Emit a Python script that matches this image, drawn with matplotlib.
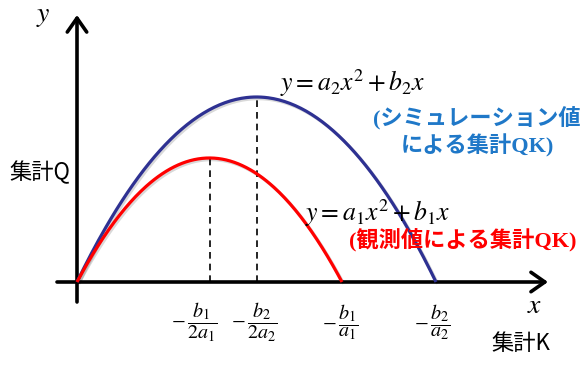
import matplotlib.pyplot as plt
import matplotlib.patheffects as pe
import numpy as np

plt.rcParams['mathtext.fontset'] = 'stix'

# roots (-b/a) and peak heights of the two parabolas (arbitrary units)
roots = [2.65, 3.59]        # red (observed), blue (simulation)
peaks = [1.24, 1.85]
colors = ['#FF0000', '#2E3192']
eq_labels = [r'$y = a_1x^2 + b_1x$', r'$y = a_2x^2 + b_2x$']
note_labels = ['(観測値による集計QK)', '(シミュレーション値\nによる集計QK)']
note_colors = ['#FF0000', '#1F78C8']
tick_labels = [r'$-\,\dfrac{b_1}{2a_1}$', r'$-\,\dfrac{b_2}{2a_2}$',
               r'$-\,\dfrac{b_1}{a_1}$', r'$-\,\dfrac{b_2}{a_2}$']

# coefficients from roots and peaks
b = [4 * p / r for p, r in zip(peaks, roots)]
a = [-bb / r for bb, r in zip(b, roots)]

fig = plt.figure(figsize=(5.84, 3.67), dpi=100)
ax = fig.add_axes([0, 0, 1, 1])
ax.set_xlim(-0.77, 5.07)
ax.set_ylim(-0.85, 2.82)
ax.axis('off')

shadow = [pe.SimpleLineShadow(offset=(1.2, -1.2), alpha=0.15), pe.Normal()]

# axes with arrows
arrow = dict(arrowstyle='->,head_length=0.5,head_width=0.35', lw=2.6,
             color='black', mutation_scale=20, shrinkA=0, shrinkB=0)
ax.annotate('', xy=(4.71, 0), xytext=(-0.2, 0), arrowprops=arrow)
ax.annotate('', xy=(0, 2.67), xytext=(0, -0.2), arrowprops=arrow)

# dashed lines at the vertices
for i in range(2):
    xv = roots[i] / 2
    ax.plot([xv, xv], [0, peaks[i]], color='black', lw=1.2, ls=(0, (4, 3)))

# parabolas
for i in [1, 0]:
    xs = np.linspace(0, roots[i], 200)
    ax.plot(xs, a[i] * xs**2 + b[i] * xs, color=colors[i], lw=2.3,
            solid_capstyle='butt', path_effects=shadow, zorder=3)

# tick fraction labels
tick_x = [roots[0] / 2, roots[1] / 2, roots[0], roots[1]]
nudge = [-0.15, -0.02, -0.02, -0.04]
for xv, dx, lab in zip(tick_x, nudge, tick_labels):
    ax.text(xv + dx, -0.4, lab, fontsize=14.5, ha='center', va='center')

# axis labels
ax.text(-0.34, 2.67, r'$y$', fontsize=20, ha='center', va='center')
ax.text(4.58, -0.23, r'$x$', fontsize=20, ha='center', va='center')
ax.text(-0.37, 1.1, '集計Q', fontsize=16, ha='center', va='center',
        family=['Noto Sans CJK JP'])
ax.text(4.44, -0.61, '集計K', fontsize=16, ha='center', va='center',
        family=['Noto Sans CJK JP'])

# equations
ax.text(2.03, 1.99, eq_labels[1], fontsize=18.5, ha='left', va='center')
ax.text(2.28, 0.69, eq_labels[0], fontsize=18.5, ha='left', va='center')

# notes
ax.text(4.0, 1.5, note_labels[1], fontsize=16, ha='center', va='center',
        color=note_colors[1], fontweight='bold', linespacing=1.25,
        family=['Liberation Serif', 'Noto Sans CJK JP'])
ax.text(3.86, 0.42, note_labels[0], fontsize=16, ha='center', va='center',
        color=note_colors[0], fontweight='bold',
        family=['Liberation Serif', 'Noto Sans CJK JP'])

plt.savefig('out.png', dpi=100)
plt.close(fig)
